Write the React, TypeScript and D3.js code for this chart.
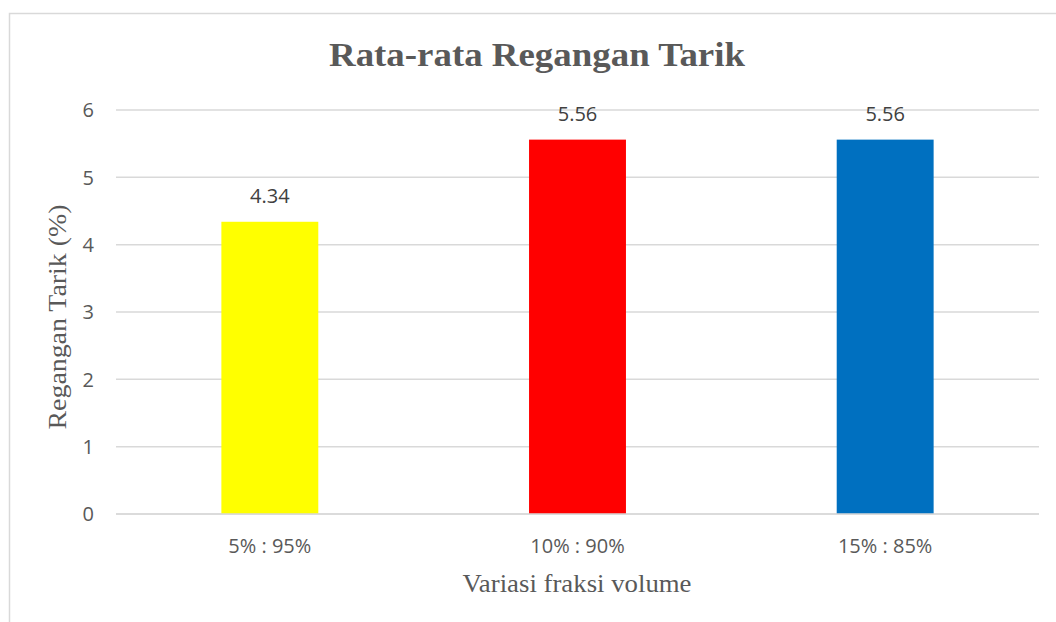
import React from "react";
import * as d3 from "d3";

const categories = ["5% : 95%", "10% : 90%", "15% : 85%"];
const values = [4.34, 5.56, 5.56];
const barColors = ["#FFFF00", "#FF0000", "#0070C0"];
const yTicks = [0, 1, 2, 3, 4, 5, 6];
const title = "Rata-rata Regangan Tarik";
const xTitle = "Variasi fraksi volume";
const yTitle = "Regangan Tarik (%)";

export default function App() {
  const W = 1056, H = 622;
  const plot = { left: 116, right: 1039, top: 110, bottom: 514 };
  const x = d3.scaleBand<string>().domain(categories).range([plot.left, plot.right]).padding(0);
  const y = d3.scaleLinear().domain([0, 6]).range([plot.bottom, plot.top]);
  const barW = x.bandwidth() * 0.315;
  const sans = "'Open Sans', 'DejaVu Sans', sans-serif";
  const serif = "'Times New Roman', 'Liberation Serif', serif";
  return (
    <svg width={W} height={H} style={{ position: "absolute", left: 0, top: 0, background: "#fff" }}>
      <rect x={9.5} y={13.5} width={1070} height={640} fill="#fff" stroke="#d9d9d9" strokeWidth={1.5} />
      <text x={537} y={66} textAnchor="middle" fontFamily={serif} fontWeight="bold" fontSize={34}
        fill="#595959" textLength={416} lengthAdjust="spacingAndGlyphs">{title}</text>
      {yTicks.map((t) => (
        <g key={t}>
          <line x1={plot.left} x2={plot.right} y1={y(t)} y2={y(t)} stroke="#d9d9d9" strokeWidth={1.5} />
          <text x={94} y={y(t)} dy="0.36em" textAnchor="end" fontFamily={sans} fontSize={20} fill="#595959">{t}</text>
        </g>
      ))}
      {categories.map((c, i) => {
        const cx = (x(c) as number) + x.bandwidth() / 2;
        return (
          <g key={c}>
            <rect x={cx - barW / 2} y={y(values[i])} width={barW} height={y(0) - y(values[i])} fill={barColors[i]} />
            <text x={cx} y={y(values[i]) - 19} textAnchor="middle" fontFamily={sans} fontSize={20} fill="#404040">
              {values[i].toFixed(2)}
            </text>
            <text x={cx} y={553} textAnchor="middle" fontFamily={sans} fontSize={20} fill="#595959">{c}</text>
          </g>
        );
      })}
      <line x1={plot.left} x2={plot.right} y1={y(0)} y2={y(0)} stroke="#d9d9d9" strokeWidth={1.5} />
      <text x={577} y={592} textAnchor="middle" fontFamily={serif} fontSize={26} fill="#595959"
        textLength={229} lengthAdjust="spacingAndGlyphs">{xTitle}</text>
      <text transform={`translate(66, 317) rotate(-90)`} textAnchor="middle"
        fontFamily={serif} fontSize={25} fill="#595959" textLength={225} lengthAdjust="spacingAndGlyphs">{yTitle}</text>
    </svg>
  );
}
